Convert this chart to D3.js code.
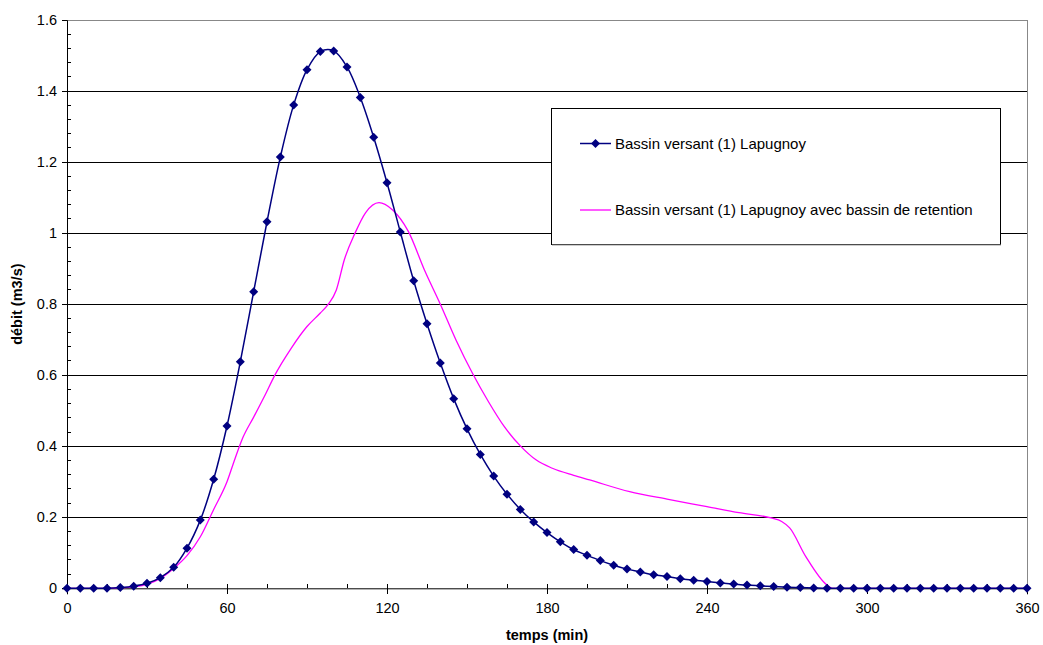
<!DOCTYPE html>
<html><head><meta charset="utf-8">
<script src="https://cdn.jsdelivr.net/npm/d3@7"></script>
<style>body{margin:0;background:#fff}svg{display:block;font-family:"Liberation Sans",Arial,sans-serif}</style>
</head><body>
<svg id="c" width="1043" height="645"></svg>
<script>
// Series 1: Bassin versant (1) Lapugnoy — every 5 min
const times1 = d3.range(0, 365, 5);
const values1 = [0,0,0,0,0.002,0.006,0.014,0.030,0.059,0.113,0.192,0.307,0.457,0.638,0.835,1.032,1.214,1.361,1.460,1.511,1.513,1.468,1.382,1.270,1.142,1.003,0.866,0.745,0.634,0.534,0.449,0.377,0.316,0.265,0.222,0.187,0.157,0.131,0.109,0.093,0.078,0.065,0.054,0.046,0.038,0.033,0.027,0.023,0.019,0.015,0.012,0.009,0.007,0.005,0.003,0.002,0.001,0,0,0,0,0,0,0,0,0,0,0,0,0,0,0,0];
// Series 2: avec bassin de retention
const times2 = [0,5,10,15,20,25,30,35,40,45,50,55,60,63,66,70,74,78,84,90,95,98,101,104,108,112,117,122,128,134,140,146,152,158,164,170,176,182,190,196,211,225,240,252,264,268,271,277,285,287,300,330,360];
const values2 = [0,0,0,0,0.001,0.004,0.011,0.028,0.056,0.092,0.145,0.222,0.300,0.365,0.425,0.482,0.540,0.601,0.675,0.737,0.775,0.800,0.840,0.925,1.000,1.058,1.086,1.066,1.005,0.897,0.800,0.697,0.606,0.526,0.455,0.401,0.361,0.338,0.318,0.305,0.272,0.251,0.230,0.213,0.198,0.188,0.170,0.090,0.009,0,0,0,0];
const xTicks = [0,60,120,180,240,300,360];
const yTicks = [0,0.2,0.4,0.6,0.8,1,1.2,1.4,1.6];
const seriesNames = ["Bassin versant (1) Lapugnoy","Bassin versant (1) Lapugnoy avec bassin de retention"];
const xTitle = "temps (min)", yTitle = "débit (m3/s)";

const svg = d3.select("#c");
const L=67, R=1027, T=20, B=588.3;
const x = d3.scaleLinear().domain([0,360]).range([L,R]);
const y = d3.scaleLinear().domain([0,1.6]).range([B,T]);
const FONT = "Liberation Sans, Arial, sans-serif";

// gridlines
svg.append("g").selectAll("line").data(yTicks.filter(v=>v>0)).join("line")
  .attr("x1",L-5).attr("x2",R).attr("y1",d=>y(d)).attr("y2",d=>y(d))
  .attr("stroke",d=>d===1.6?"#888":"#000").attr("stroke-width",1).attr("shape-rendering","crispEdges");
// right border
svg.append("line").attr("x1",R).attr("x2",R).attr("y1",T).attr("y2",B).attr("stroke","#888").attr("shape-rendering","crispEdges");

// Y axis
const gy = svg.append("g").attr("transform",`translate(${L},0)`);
gy.call(d3.axisLeft(y).tickValues(yTicks).tickSize(5).tickFormat(d=>d3.format("")(+d.toFixed(1))));
gy.select(".domain").attr("stroke","#000");
gy.selectAll("text").attr("font-size",14.5).attr("fill","#000").attr("dx",-2).attr("font-family",FONT);
gy.selectAll(".tick line").attr("shape-rendering","crispEdges");
gy.append("g").selectAll("line").data(d3.range(0,1.6,0.04).filter(v=>Math.abs(v/0.2-Math.round(v/0.2))>0.01)).join("line")
  .attr("x1",0).attr("x2",4).attr("y1",d=>y(d)).attr("y2",d=>y(d)).attr("stroke","#000").attr("shape-rendering","crispEdges");

// X axis
const gx = svg.append("g").attr("transform",`translate(0,${B})`);
gx.call(d3.axisBottom(x).tickValues(xTicks).tickSize(6).tickFormat(d3.format("d")));
gx.select(".domain").attr("stroke","#000");
gx.selectAll(".tick line").attr("y1",-4).attr("shape-rendering","crispEdges");
gx.selectAll("text").attr("font-size",14.5).attr("fill","#000").attr("dy","1.1em").attr("font-family",FONT);
gx.append("g").selectAll("line").data(d3.range(15,360,15).filter(v=>v%60!==0)).join("line")
  .attr("x1",d=>x(d)).attr("x2",d=>x(d)).attr("y1",0).attr("y2",-4).attr("stroke","#000").attr("shape-rendering","crispEdges");

// titles
svg.append("text").attr("x",547).attr("y",640).attr("text-anchor","middle")
  .attr("font-size",14.5).attr("font-weight","bold").text(xTitle);
svg.append("text").attr("transform",`translate(22,${(T+B)/2}) rotate(-90)`).attr("text-anchor","middle")
  .attr("font-size",14.5).attr("font-weight","bold").text(yTitle);

// series 2 (magenta)
const d2 = times2.map((t,i)=>[t,values2[i]]);
svg.append("path").datum(d2).attr("fill","none").attr("stroke","#ff00ff").attr("stroke-width",1.3)
  .attr("d",d3.line().x(d=>x(d[0])).y(d=>y(d[1])).curve(d3.curveMonotoneX));

// series 1 (navy)
const d1 = times1.map((t,i)=>[t,values1[i]]);
svg.append("path").datum(d1).attr("fill","none").attr("stroke","#000080").attr("stroke-width",1.5)
  .attr("d",d3.line().x(d=>x(d[0])).y(d=>y(d[1])).curve(d3.curveCatmullRom.alpha(0.5)));
const diamond = "M0,-4.5L4.5,0L0,4.5L-4.5,0Z";
svg.append("g").selectAll("path").data(d1).join("path")
  .attr("transform",d=>`translate(${x(d[0])},${y(d[1])})`).attr("d",diamond).attr("fill","#000080");

// legend
const lg = svg.append("g");
lg.append("rect").attr("x",551.5).attr("y",108.5).attr("width",449).attr("height",136)
  .attr("fill","#fff").attr("stroke","#000").attr("stroke-width",1);
lg.append("line").attr("x1",552).attr("x2",1001).attr("y1",245).attr("y2",245).attr("stroke","#999");
const ly = [143.5,210];
const lcol = ["#000080","#ff00ff"];
ly.forEach((yy,i)=>{
  lg.append("line").attr("x1",580).attr("x2",611).attr("y1",yy).attr("y2",yy).attr("stroke",lcol[i]).attr("stroke-width",i?1.3:1.5);
  if(i===0) lg.append("path").attr("transform",`translate(595.5,${yy})`).attr("d",diamond).attr("fill","#000080");
  lg.append("text").attr("x",615).attr("y",yy).attr("dy","0.35em").attr("font-size",15).attr("fill","#000").attr("font-family",FONT).text(seriesNames[i]);
});
</script>
</body></html>
